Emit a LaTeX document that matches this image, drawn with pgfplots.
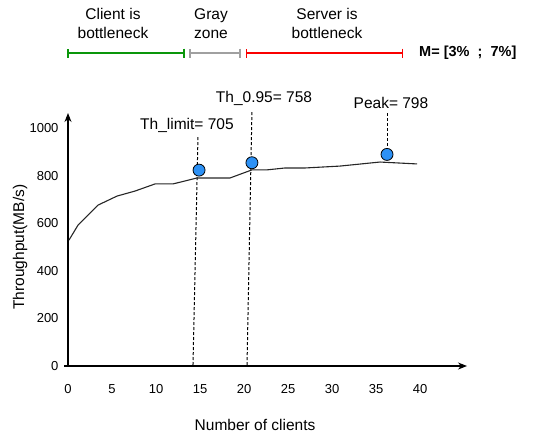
\documentclass[border=0pt]{standalone}
\usepackage{pgfplots}
\pgfplotsset{compat=1.18}
\usetikzlibrary{arrows.meta}
\usepackage{fontspec}
\setmainfont{Liberation Sans}
\definecolor{mblue}{RGB}{45,145,245}
\definecolor{mgreen}{RGB}{10,150,10}
\definecolor{mgray}{RGB}{160,160,160}
\definecolor{mred}{RGB}{250,0,0}
\begin{document}
\begin{tikzpicture}
\begin{axis}[
  x=8.8bp, y=0.238bp,
  xmin=-0.45, xmax=45.34, ymin=0, ymax=1063,
  axis lines=middle,
  hide obscured x ticks=false, hide obscured y ticks=false,
  axis line style={line width=1.1bp, -{Stealth[length=9bp,width=7bp]}},
  major tick length=0pt,
  xtick={0,5,...,40}, ytick={0,200,...,1000},
  /pgf/number format/assume math mode=true,
  /pgf/number format/1000 sep={},
  tick label style={font=\fontsize{13bp}{15bp}\selectfont},
  xticklabel style={yshift=-15bp},
  yticklabel style={xshift=-6bp},
  clip=false,
  xlabel={Number of clients},
  ylabel={Throughput(MB/s)},
  every axis x label/.style={at={(axis description cs:0.474,-0.233)}, anchor=center, font=\fontsize{15.5bp}{18bp}\selectfont},
  every axis y label/.style={at={(axis description cs:-0.109,0.470)}, anchor=center, rotate=90, font=\fontsize{15.5bp}{18bp}\selectfont},
]
% dashed guide lines
\addplot[black, line width=1bp, dash pattern=on 3bp off 2bp] coordinates {(14.77,962) (14.2,0)};
\addplot[black, line width=1bp, dash pattern=on 3bp off 2bp] coordinates {(20.9,1067) (20.34,0)};
\addplot[black, line width=1bp, dash pattern=on 3bp off 2bp] coordinates {(36.25,1063) (36.25,916)};
% throughput curve
\addplot[black!85, line width=1.1bp] coordinates {
(0.11,529) (1.14,592) (3.41,676) (5.57,714) (7.61,735) (9.89,765) (11.93,765)
(14.66,790) (18.41,790) (20.9,824) (22.6,824) (24.66,832) (26.93,832)
(30.9,840) (35.45,857) (39.66,849)};
% markers
\addplot[only marks, mark=*, mark size=6bp, mark options={fill=mblue, draw=black, line width=0.8bp}]
 coordinates {(14.89,823) (20.9,854) (36.25,889)};
% annotations
\node[font=\fontsize{15.5bp}{18bp}\selectfont] at (axis cs:13.52,1012) {Th\_limit= 705};
\node[font=\fontsize{15.5bp}{18bp}\selectfont] at (axis cs:22.27,1125) {Th\_0.95= 758};
\node[font=\fontsize{15.5bp}{18bp}\selectfont] at (axis cs:36.7,1104) {Peak= 798};
\node[font=\fontsize{15.5bp}{19bp}\selectfont, align=center] at (axis cs:5.11,1440) {Client is\\bottleneck};
\node[font=\fontsize{15.5bp}{19bp}\selectfont, align=center] at (axis cs:16.25,1440) {Gray\\zone};
\node[font=\fontsize{15.5bp}{19bp}\selectfont, align=center] at (axis cs:29.43,1440) {Server is\\bottleneck};
\draw[mgreen, line width=1.6bp, {Bar[width=9bp]}-{Bar[width=9bp]}] (axis cs:-0.1,1315) -- (axis cs:13.3,1315);
\draw[mgray, line width=1.6bp, {Bar[width=9bp]}-{Bar[width=9bp]}] (axis cs:13.75,1315) -- (axis cs:19.66,1315);
\draw[mred, line width=1.6bp, {Bar[width=9bp]}-{Bar[width=9bp]}] (axis cs:20.2,1315) -- (axis cs:38.1,1315);
\node[font=\fontsize{14.5bp}{17bp}\selectfont\bfseries, anchor=west, inner sep=0pt] at (axis cs:39.89,1315) {M= [3\%\ \ ;\ \ 7\%]};
\coordinate (bbll) at (axis cs:-7.727,-294.1);
\coordinate (bbur) at (axis cs:53.18,1537.8);
\end{axis}
\pgfresetboundingbox
\useasboundingbox (bbll) rectangle (bbur);
\end{tikzpicture}
\end{document}
